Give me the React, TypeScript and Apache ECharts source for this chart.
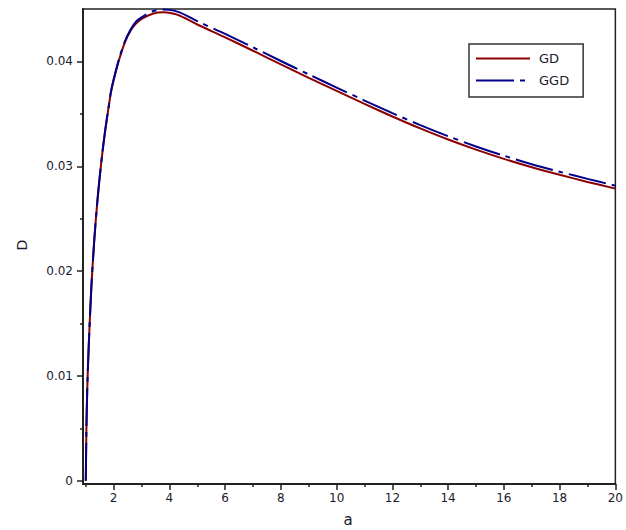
import React, { useEffect, useRef } from "react";
import * as echarts from "echarts";

const aValues = [1.0, 1.02, 1.05, 1.1, 1.2, 1.3, 1.4, 1.5, 1.6, 1.7, 1.8, 1.9, 2.0, 2.2, 2.4, 2.6, 2.8, 3.0, 3.4, 3.8, 4.2, 4.6, 5, 6, 7, 8, 9, 10, 11, 12, 13, 14, 15, 16, 17, 18, 19, 20];
const gdValues = [0, 0.0045, 0.0085, 0.0125, 0.0185, 0.0228, 0.0262, 0.029, 0.0314, 0.0335, 0.0353, 0.037, 0.0382, 0.0402, 0.0418, 0.0429, 0.0436, 0.04405, 0.04455, 0.04468, 0.04452, 0.04408, 0.04352, 0.0423, 0.04102, 0.03972, 0.03844, 0.03719, 0.03595, 0.03475, 0.03361, 0.03255, 0.03159, 0.03071, 0.02991, 0.02919, 0.02851, 0.02787];
const ggdValues = [0, 0.0045, 0.0085, 0.0125, 0.0185, 0.0228, 0.0262, 0.029, 0.0314, 0.0335, 0.0353, 0.0371, 0.0383, 0.0403, 0.0419, 0.0430, 0.0438, 0.0442, 0.04478, 0.04496, 0.04482, 0.0444, 0.04384, 0.04262, 0.04134, 0.04004, 0.03876, 0.03751, 0.03627, 0.03507, 0.03393, 0.03287, 0.03189, 0.03101, 0.0302, 0.02948, 0.0288, 0.02815];

const xMajorTicks = [2, 4, 6, 8, 10, 12, 14, 16, 18, 20];
const xMinorTicks = [1, 3, 5, 7, 9, 11, 13, 15, 17, 19];
const yMajorTicks = [0, 0.01, 0.02, 0.03, 0.04];
const yMinorTicks = [0.005, 0.015, 0.025, 0.035];
const yLabels = ["0", "0.01", "0.02", "0.03", "0.04"];

const seriesNames = ["GD", "GGD"];

export default function App() {
  const ref = useRef<HTMLDivElement>(null);
  useEffect(() => {
    if (!ref.current) return;
    const chart = echarts.init(ref.current, undefined, { renderer: "svg" });
    const axisColor = "#222";
    const labelFont = { fontFamily: "DejaVu Sans", fontSize: 12, color: "#1a1a2e" };
    const xMin = 0.9, xMax = 20, yMin = -0.0003, yMax = 0.045;
    const dash = [38, 6, 5, 6];
    chart.setOption({
      animation: false,
      backgroundColor: "#fff",
      grid: {
        left: 83, top: 9, right: 9, bottom: 46,
        show: true, borderColor: axisColor, borderWidth: 1.5,
      },
      xAxis: [
        {
          type: "value", min: xMin, max: xMax, position: "bottom",
          axisLine: { show: true, onZero: false, lineStyle: { color: axisColor, width: 2 } },
          axisTick: { show: true, customValues: xMajorTicks, length: 6, lineStyle: { color: axisColor, width: 1.5 } },
          axisLabel: { show: true, customValues: xMajorTicks, margin: 8, ...labelFont },
          splitLine: { show: false },
        },
        {
          type: "value", min: xMin, max: xMax, position: "bottom",
          axisLine: { show: false, onZero: false },
          axisTick: { show: true, customValues: xMinorTicks, length: 3, lineStyle: { color: axisColor, width: 1.5 } },
          axisLabel: { show: false },
          splitLine: { show: false },
        },
      ],
      yAxis: [
        {
          type: "value", min: yMin, max: yMax, position: "left",
          axisLine: { show: true, onZero: false, lineStyle: { color: axisColor, width: 2 } },
          axisTick: { show: true, customValues: yMajorTicks, length: 6, lineStyle: { color: axisColor, width: 1.5 } },
          axisLabel: {
            show: true, customValues: yMajorTicks, margin: 10, ...labelFont,
            formatter: (v: number) => {
              const i = yMajorTicks.findIndex((t) => Math.abs(t - v) < 1e-9);
              return i >= 0 ? yLabels[i] : "";
            },
          },
          splitLine: { show: false },
        },
        {
          type: "value", min: yMin, max: yMax, position: "left",
          axisLine: { show: false, onZero: false },
          axisTick: { show: true, customValues: yMinorTicks, length: 3, lineStyle: { color: axisColor, width: 1.5 } },
          axisLabel: { show: false },
          splitLine: { show: false },
        },
      ],
      legend: {
        left: 469, top: 44, orient: "vertical",
        itemWidth: 54, itemHeight: 14, itemGap: 9,
        padding: [8, 14, 10, 6],
        borderColor: "#333", borderWidth: 1.5, backgroundColor: "#fff",
        itemStyle: { opacity: 0, color: "transparent", borderWidth: 0 },
        textStyle: { fontFamily: "DejaVu Sans", fontSize: 13, color: "#1a1a2e", padding: [0, 0, 0, 4] },
        data: seriesNames,
      },
      series: [
        {
          name: seriesNames[0], type: "line", xAxisIndex: 0, yAxisIndex: 0,
          data: aValues.map((a, i) => [a, gdValues[i]]),
          symbol: "none", smooth: 0.3,
          lineStyle: { color: "#8b0000", width: 2 },
          itemStyle: { color: "#8b0000" },
        },
        {
          name: seriesNames[1], type: "line", xAxisIndex: 0, yAxisIndex: 0,
          data: aValues.map((a, i) => [a, ggdValues[i]]),
          symbol: "none", smooth: 0.3,
          lineStyle: { color: "#00008b", width: 2, type: dash },
          itemStyle: { color: "#00008b" },
        },
      ],
      graphic: [
        {
          type: "text", x: 22, y: 245, rotation: Math.PI / 2,
          style: { text: "D", fontFamily: "DejaVu Sans", fontSize: 14, fill: "#1a1a2e", align: "center", verticalAlign: "middle" },
        },
        {
          type: "text", x: 348, y: 520,
          style: { text: "a", fontFamily: "DejaVu Sans", fontSize: 15, fill: "#1a1a2e", align: "center", verticalAlign: "middle" },
        },
      ],
    });
    return () => chart.dispose();
  }, []);
  return <div ref={ref} style={{ width: 626, height: 530, position: "absolute", left: 0, top: 0 }} />;
}
